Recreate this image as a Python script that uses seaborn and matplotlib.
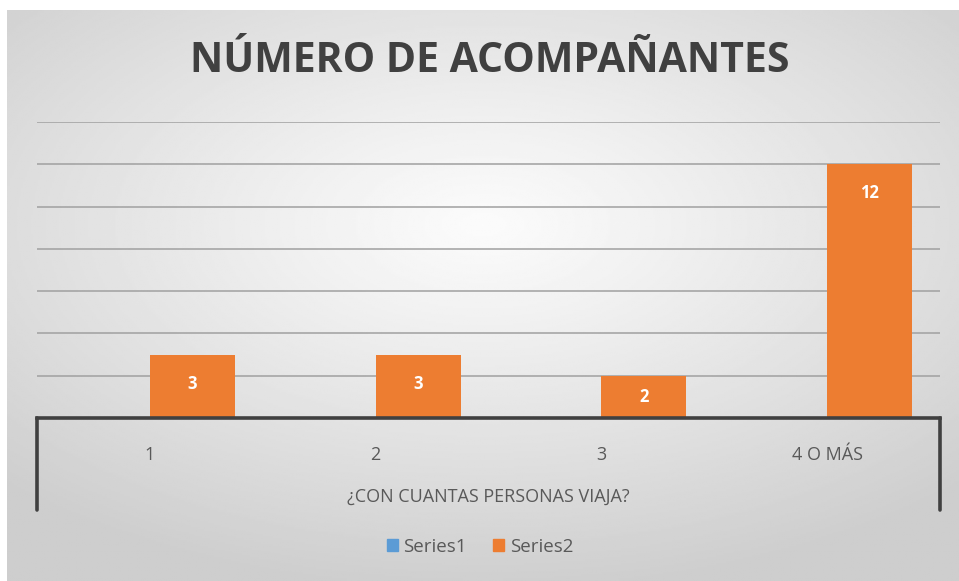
import numpy as np
import pandas as pd
import matplotlib
matplotlib.use("Agg")
import matplotlib.pyplot as plt
from matplotlib.lines import Line2D
import seaborn as sns

categorias = ["1", "2", "3", "4 O MÁS"]
series1 = [0, 0, 0, 0]
series2 = [3, 3, 2, 12]
nombres_series = ["Series1", "Series2"]
colores = ["#5B9BD5", "#ED7D31"]

df = pd.DataFrame({
    "categoria": categorias * 2,
    "valor": series1 + series2,
    "serie": [nombres_series[0]] * 4 + [nombres_series[1]] * 4,
})

sns.set_theme(style="white")
plt.rcParams["font.family"] = ["Open Sans", "DejaVu Sans"]

W, H = 959, 581
fig = plt.figure(figsize=(W / 100, H / 100), dpi=100)
fig.patch.set_facecolor("white")

# fondo degradado radial estilo Excel
bg = fig.add_axes([7 / W, 0, 1 - 7 / W, 1 - 10 / H])
yy, xx = np.mgrid[-1:1:300j, -1:1:500j]
r = np.sqrt((xx * 0.9) ** 2 + ((yy + 0.25) * 1.0) ** 2)
r = np.clip(r, 0, 1.3) / 1.3
img = 0.985 - 0.18 * r ** 1.1
bg.imshow(img, cmap="gray", vmin=0, vmax=1, aspect="auto", extent=[0, 1, 0, 1])
bg.set_axis_off()

ax = fig.add_axes([37 / W, 1 - 418 / H, (940 - 37) / W, (418 - 122) / H])
ax.patch.set_alpha(0)
sns.barplot(data=df, x="categoria", y="valor", hue="serie", palette=colores,
            saturation=1, width=0.752, linewidth=0, ax=ax, legend=False, zorder=3)
ax.set_xlim(-0.5, 3.5)
ax.set_ylim(0, 14)
ax.set_yticks(np.arange(2, 15, 2))
ax.yaxis.grid(True, color="#a0a0a0", linewidth=1.1, zorder=0)
ax.set_axisbelow(True)
for s in ["top", "right", "left"]:
    ax.spines[s].set_visible(False)
ax.spines["bottom"].set_color("#404040")
ax.spines["bottom"].set_linewidth(2.6)
ax.spines["bottom"].set_zorder(5)
ax.tick_params(axis="y", left=False, labelleft=False)
ax.tick_params(axis="x", bottom=False, labelsize=13, labelcolor="#595959", pad=14)
ax.set_xlabel("¿CON CUANTAS PERSONAS VIAJA?", fontsize=13, color="#595959", labelpad=17)
ax.set_ylabel("")

# etiquetas de datos (extremo interior; centradas si la barra es corta)
px_per_unit = (418 - 122) / 14
serie2_bars = ax.containers[1]
for bar, v in zip(serie2_bars, series2):
    off = min(21, v * px_per_unit / 2 * 0.72)
    ax.annotate(str(v), (bar.get_x() + bar.get_width() / 2, bar.get_height()),
                xytext=(0, -off), textcoords="offset points", ha="center", va="center",
                color="white", fontsize=12, fontweight="bold", zorder=6)

# corchete del eje
for px in (37, 940):
    fig.add_artist(Line2D([px / W, px / W], [1 - 418 / H, 1 - 510 / H],
                          color="#404040", linewidth=2.6))

fig.text(490 / W, 1 - 62 / H, "NÚMERO DE ACOMPAÑANTES", ha="center", va="center",
         fontsize=29.5, fontweight="bold", color="#404040",
         family=["Open Sans", "DejaVu Sans"])

handles = [plt.Rectangle((0, 0), 1, 1, color=c) for c in colores]
fig.legend(handles, nombres_series, loc="center", bbox_to_anchor=(480 / W, 1 - 547 / H),
           ncol=2, frameon=False, fontsize=13.5, handlelength=0.6, handleheight=0.6,
           handletextpad=0.3, columnspacing=1.4, labelcolor="#595959")

fig.savefig("out.png", dpi=100)
